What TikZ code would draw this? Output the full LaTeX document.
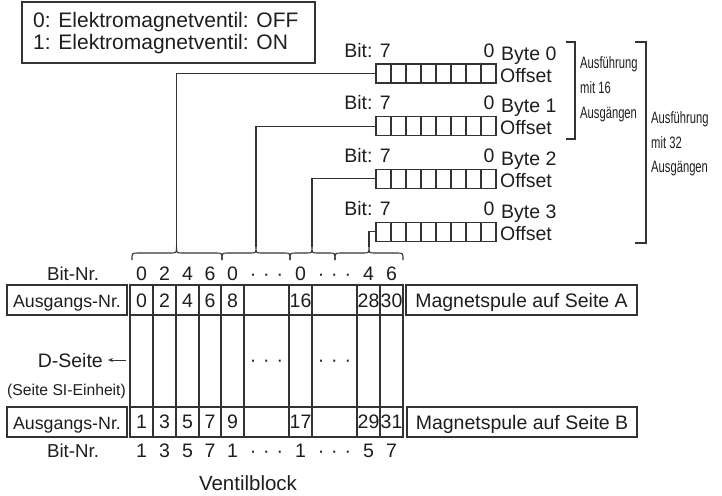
\documentclass[tikz,border=0pt]{standalone}
\usepackage{fontspec}
\setmainfont{Liberation Sans}
\newfontfamily\condfont[FakeStretch=0.68]{Liberation Sans}
\usetikzlibrary{calc,arrows.meta}
\definecolor{ink}{HTML}{333333}
\definecolor{txt}{HTML}{1E1E1E}
\newcommand\mydots{·\hspace{7pt}·\hspace{7pt}·}
\begin{document}
\begin{tikzpicture}[x=1pt,y=-1pt,
  line/.style={draw=ink,line width=1.1pt},
  lbl/.style={text=txt,inner sep=0pt,font=\fontsize{19.5}{22}\selectfont},
  reg/.style={draw=ink,line width=1.1pt,minimum width=120pt,minimum height=19pt,inner sep=0pt},
  tbox/.style={draw=ink,line width=1.1pt,inner sep=0pt,text height=14pt,text depth=0pt,text=txt,font=\fontsize{19.5}{22}\selectfont},
  cond/.style={text=txt,inner sep=0pt,anchor=base west,font=\condfont\fontsize{16.5}{18}\selectfont},
]
\useasboundingbox (0,0) rectangle (722,495);

% legend
\node[draw=ink,line width=1.1pt,minimum width=293pt,minimum height=61pt,inner sep=0pt] (legend) at (168.5,32.5) {};
\node[lbl,anchor=base west,font=\fontsize{21}{24}\selectfont] (leg0) at (33,28) {0: Elektromagnetventil: OFF};
\node[lbl,anchor=base west,font=\fontsize{21}{24}\selectfont] (leg1) at (33,50) {1: Elektromagnetventil: ON};

% byte registers
\foreach \k in {0,1,2,3}{
  \pgfmathsetmacro{\yt}{64+52.7*\k}
  \node[reg] (reg\k) at (436,\yt+9.5) {};
  \foreach \i in {1,...,7}
    \draw[line] ({376+15*\i},\yt) -- ({376+15*\i},\yt+19);
  \node[lbl,anchor=base] (bit\k) at (367.5,\yt-7) {Bit: 7};
  \node[lbl,anchor=base] (zero\k) at (489,\yt-7) {0};
  \node[lbl,anchor=base west] (byte\k) at (501,\yt-4) {Byte \k};
  \node[lbl,anchor=base west] (off\k) at (500,\yt+18) {Offset};
}

% braces
\foreach \a/\m/\b in {132/176.5/222, 222/256/290, 290/312/335, 335/369/403}
  \draw[line] (\a,260) .. controls (\a,253) .. ({\a+6},253) -- ({\m-6},253)
    .. controls (\m,253) .. (\m,247) .. controls (\m,253) .. ({\m+6},253)
    -- ({\b-6},253) .. controls (\b,253) .. (\b,260);
\coordinate (tip0) at (176.5,247);
\coordinate (tip1) at (256,247);
\coordinate (tip2) at (312,247);
\coordinate (tip3) at (369,247);
\foreach \k in {0,1,2,3} \draw[line] (reg\k.west) -| (tip\k);

% right brackets
\draw[line] (566,42) -- (575,42) -- (575,139) -- (566,139);
\draw[line] (635,42) -- (646,42) -- (646,243) -- (635,243);
\node[cond] (c1a) at (580,68) {Ausführung};
\node[cond] (c1b) at (580,93) {mit 16};
\node[cond] (c1c) at (580,118) {Ausgängen};
\node[cond] (c2a) at (651,123) {Ausführung};
\node[cond] (c2b) at (651,148) {mit 32};
\node[cond] (c2c) at (651,172) {Ausgängen};

% table grid
\draw[line] (130,285) rectangle (403,437);
\draw[line] (130,315) -- (403,315) (130,407) -- (403,407);
\foreach \x in {153,176,199,221,244,289,312,357,380} \draw[line] (\x,285) -- (\x,437);

% row labels
\node[lbl,anchor=base,font=\fontsize{18.7}{22}\selectfont] (bitnrA) at (73,280) {Bit-Nr.};
\node[lbl,anchor=base,font=\fontsize{18.7}{22}\selectfont] (bitnrB) at (73,457) {Bit-Nr.};
\node[tbox,minimum width=120pt,minimum height=30pt,font=\fontsize{17.8}{22}\selectfont] (ausA) at (67,300) {Ausgangs-Nr.};
\node[tbox,minimum width=120pt,minimum height=30pt,font=\fontsize{17.8}{22}\selectfont] (ausB) at (67,422) {Ausgangs-Nr.};
\node[tbox,minimum width=231pt,minimum height=30pt] (magA) at (521.5,300) {Magnetspule auf Seite A};
\node[tbox,minimum width=230pt,minimum height=30pt] (magB) at (522,422) {Magnetspule auf Seite B};

\node[lbl,anchor=base east] (dseite) at (103,367) {D-Seite};
\coordinate (dsarr) at (126,360);
\draw[draw=ink,line width=0.8pt,-{Stealth[length=5pt,width=4pt]},shorten >=5pt] (dsarr) -- (dseite.east |- dsarr);
\node[lbl,anchor=base,font=\fontsize{15.7}{18}\selectfont] (si) at (66.5,395) {(Seite SI-Einheit)};

% cell numbers
\foreach \x/\t in {141.5/0,164.5/2,187.5/4,210/6,232.5/8,300.5/16,368.5/28,391.5/30}
  \node[lbl,anchor=base] (a\t) at (\x,307) {\t};
\foreach \x/\t in {141.5/1,164.5/3,187.5/5,210/7,232.5/9,300.5/17,368.5/29,391.5/31}
  \node[lbl,anchor=base] (b\t) at (\x,428) {\t};

% bit numbers
\foreach \x/\t [count=\n] in {141.5/0,164.5/2,187.5/4,210/6,232.5/0,266.5/\mydots,300.5/0,334.5/\mydots,368.5/4,391.5/6}
  \node[lbl,anchor=base] (bt\n) at (\x,280) {\t};
\foreach \x/\t [count=\n] in {141.5/1,164.5/3,187.5/5,210/7,232.5/1,266.5/\mydots,300.5/1,334.5/\mydots,368.5/5,391.5/7}
  \node[lbl,anchor=base] (bb\n) at (\x,457) {\t};
\node[lbl,anchor=base] (md1) at (266.5,366) {\mydots};
\node[lbl,anchor=base] (md2) at (334.5,366) {\mydots};

\node[lbl,anchor=base,font=\fontsize{20.5}{24}\selectfont] (vb) at (248,490) {Ventilblock};
\end{tikzpicture}
\end{document}
